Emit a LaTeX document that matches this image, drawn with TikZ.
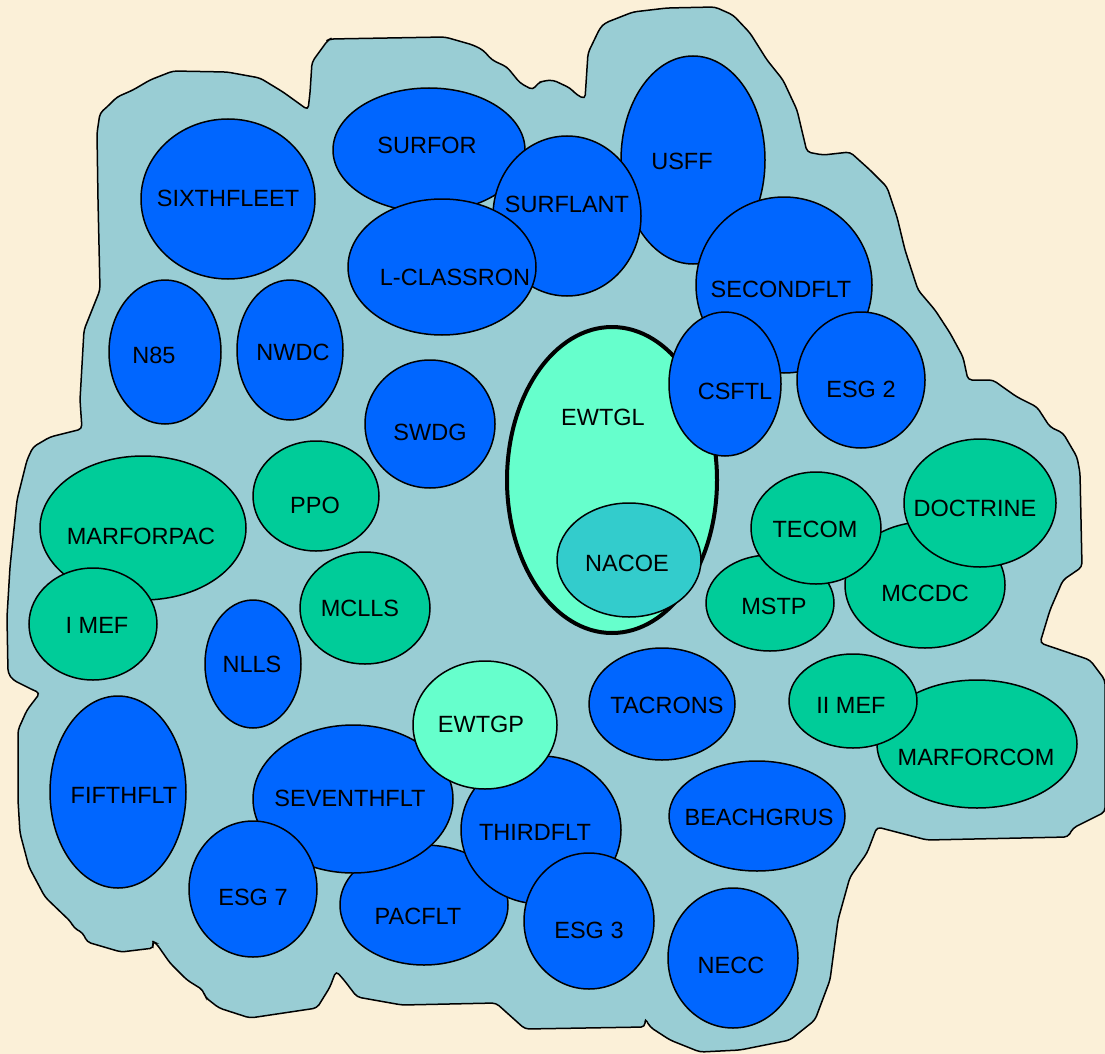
\documentclass[tikz,border=0pt]{standalone}
\usepackage{fontspec}
\setmainfont{Liberation Sans}
\usetikzlibrary{shapes.geometric}
\definecolor{cream}{HTML}{FBF0D8}
\definecolor{pool}{HTML}{99CDD4}
\definecolor{navyblue}{HTML}{0066FF}
\definecolor{mgreen}{HTML}{00CC99}
\definecolor{lgreen}{HTML}{66FFCC}
\definecolor{tealc}{HTML}{33CCCC}
\tikzset{
  org/.style={ellipse, draw=black, line width=1.5pt, inner sep=0pt},
  bluenode/.style={org, fill=navyblue},
  greennode/.style={org, fill=mgreen},
  lgnode/.style={org, fill=lgreen},
  tealnode/.style={org, fill=tealc},
  lbl/.style={inner sep=0pt, text=black, font=\fontsize{23.5}{28}\selectfont},
}
\newcommand\orgunit[9]{%
  \node[#1, minimum width=#5pt, minimum height=#6pt] (#2) at (#3,#4) {};
  \node[lbl] (#2-t) at (#8,#9) {#7};
}
\begin{document}
\begin{tikzpicture}[x=1pt,y=-1pt]
\useasboundingbox (0,0) rectangle (1105,1054);
\fill[cream] (0,0) rectangle (1105,1054);
% pool outline
\draw[fill=pool, line width=1.5pt, rounded corners=4pt]
 (97,133) -- (100,113) -- (107,107) -- (117,97) -- (133,90) -- (150,80) -- (173,71) -- (227,72)
 -- (260,78) -- (283,92) -- (308,110) -- (310,93) -- (312,62) -- (328,40) -- (330,39)
 -- (445,37) -- (473,45) -- (483,50) -- (492,60) -- (507,67) -- (520,83) -- (533,90)
 -- (538,83) -- (543,81) -- (553,80) -- (570,88) -- (577,95) -- (585,99) -- (588,53)
 -- (600,28) -- (605,23) -- (633,12) -- (667,8) -- (715,7) -- (733,15) -- (750,33)
 -- (767,60) -- (783,80) -- (797,110) -- (807,152) -- (823,155) -- (850,152) -- (870,170)
 -- (887,187) -- (897,217) -- (905,250) -- (918,290) -- (935,310) -- (950,333) -- (963,357)
 -- (968,380) -- (993,380) -- (1007,390) -- (1017,397) -- (1037,407) -- (1050,427)
 -- (1063,433) -- (1077,457) -- (1080,473) -- (1082,567) -- (1063,580) -- (1050,610)
 -- (1040,643) -- (1090,660) -- (1105,680) -- (1105,812) -- (1073,828) -- (1068,837)
 -- (927,840) -- (877,827) -- (867,853) -- (850,877) -- (838,920) -- (830,980)
 -- (815,1020) -- (790,1040) -- (740,1050) -- (700,1052) -- (670,1040) -- (650,1027)
 -- (645,1018) -- (645,1027) -- (525,1029) -- (496,1003) -- (402,1005) -- (357,997)
 -- (344,980) -- (336,971) -- (330,987) -- (317,1008) -- (250,1018) -- (219,1008)
 -- (205,997) -- (203,990) -- (187,980) -- (170,963) -- (156,943) -- (152,941)
 -- (154,948) -- (121,952) -- (87,942) -- (83,933) -- (74,928) -- (71,922) -- (45,897)
 -- (29,867) -- (20,833) -- (18,800) -- (18,730) -- (27,710) -- (40,693) -- (33,690)
 -- (13,680) -- (8,673) -- (7,617) -- (10,567) -- (17,500) -- (27,460) -- (33,447)
 -- (50,437) -- (82,429) -- (80,400) -- (84,330) -- (100,290) -- (98,200) -- cycle;
% top group
\orgunit{bluenode}{sixth}{228}{199}{174}{160}{SIXTHFLEET}{228}{198}
\orgunit{bluenode}{surfor}{429}{150}{192}{124}{SURFOR}{427}{145}
\orgunit{bluenode}{usff}{693}{160}{144}{208}{USFF}{682}{161}
\orgunit{bluenode}{surflant}{567}{216}{148}{160}{SURFLANT}{567}{204}
\orgunit{bluenode}{lclass}{442}{267}{188}{136}{L-CLASSRON}{455}{277}
\orgunit{bluenode}{secondflt}{784}{285}{176}{176}{SECONDFLT}{781}{289}
\orgunit{bluenode}{n85}{165}{352}{112}{144}{N85}{154}{355}
\orgunit{bluenode}{nwdc}{290}{350}{106}{140}{NWDC}{293}{352}
\orgunit{bluenode}{swdg}{430}{424}{130}{128}{SWDG}{430}{432}
% EWTGL
\node[lgnode, line width=4pt, minimum width=210pt, minimum height=306pt] (ewtgl) at (612,480) {};
\node[lbl] (ewtgl-t) at (603,417) {EWTGL};
\orgunit{tealnode}{nacoe}{629}{560}{144}{114}{NACOE}{627}{563}
\orgunit{bluenode}{csftl}{725}{384}{112}{144}{CSFTL}{735}{391}
\orgunit{bluenode}{esg2}{861}{380}{128}{136}{ESG 2}{861}{389}
% middle left
\orgunit{greennode}{ppo}{316}{496}{126}{110}{PPO}{315}{505}
\orgunit{greennode}{marforpac}{143}{528}{206}{144}{MARFORPAC}{141}{536}
\orgunit{greennode}{imef}{93}{624}{128}{112}{I MEF}{97}{625}
\orgunit{greennode}{mclls}{365}{608}{130}{112}{MCLLS}{360}{608}
\orgunit{bluenode}{nlls}{253}{664}{96}{128}{NLLS}{252}{664}
\orgunit{bluenode}{fifth}{118}{792}{136}{192}{FIFTHFLT}{124}{795}
% right group
\orgunit{greennode}{mccdc}{925}{585}{160}{126}{MCCDC}{925}{593}
\orgunit{greennode}{mstp}{770}{603}{128}{96}{MSTP}{774}{606}
\orgunit{greennode}{tecom}{816}{528}{130}{112}{TECOM}{815}{529}
\orgunit{greennode}{doctrine}{980}{503}{152}{128}{DOCTRINE}{975}{508}
\orgunit{bluenode}{tacrons}{662}{704}{146}{112}{TACRONS}{667}{705}
\orgunit{greennode}{marforcom}{977}{744}{200}{128}{MARFORCOM}{976}{757}
\orgunit{greennode}{iimef}{853}{701}{128}{94}{II MEF}{851}{705}
\orgunit{bluenode}{beach}{757}{816}{176}{110}{BEACHGRUS}{759}{817}
\orgunit{bluenode}{necc}{733}{958}{130}{140}{NECC}{731}{965}
% bottom group
\orgunit{bluenode}{pacflt}{424}{905}{168}{120}{PACFLT}{418}{916}
\orgunit{bluenode}{seventh}{353}{799}{200}{148}{SEVENTHFLT}{350}{798}
\orgunit{bluenode}{third}{541}{830}{160}{148}{THIRDFLT}{535}{832}
\orgunit{lgnode}{ewtgp}{485}{725}{144}{128}{EWTGP}{481}{724}
\orgunit{bluenode}{esg7}{253}{889}{128}{136}{ESG 7}{253}{897}
\orgunit{bluenode}{esg3}{589}{921}{130}{136}{ESG 3}{589}{930}
\end{tikzpicture}
\end{document}
